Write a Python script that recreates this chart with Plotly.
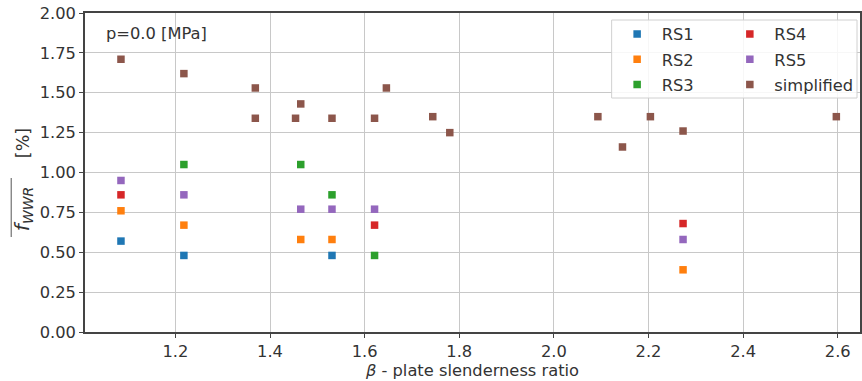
import plotly.graph_objects as go

rs1_x = [1.085, 1.218, 1.531]
rs1_y = [0.57, 0.48, 0.48]
rs2_x = [1.085, 1.218, 1.465, 1.531, 2.273]
rs2_y = [0.76, 0.67, 0.58, 0.58, 0.39]
rs3_x = [1.218, 1.465, 1.531, 1.621]
rs3_y = [1.05, 1.05, 0.86, 0.48]
rs4_x = [1.085, 1.621, 2.273]
rs4_y = [0.86, 0.67, 0.68]
rs5_x = [1.085, 1.218, 1.465, 1.531, 1.621, 2.273]
rs5_y = [0.95, 0.86, 0.77, 0.77, 0.77, 0.58]
simp_x = [1.085, 1.218, 1.369, 1.369, 1.454, 1.465, 1.531, 1.621, 1.646, 1.744,
          1.780, 2.093, 2.145, 2.204, 2.273, 2.597]
simp_y = [1.71, 1.62, 1.53, 1.34, 1.34, 1.43, 1.34, 1.34, 1.53, 1.35,
          1.25, 1.35, 1.16, 1.35, 1.26, 1.35]

x_ticks = [1.2, 1.4, 1.6, 1.8, 2.0, 2.2, 2.4, 2.6]
y_ticks = [0.0, 0.25, 0.5, 0.75, 1.0, 1.25, 1.5, 1.75, 2.0]

series = [
    ("RS1", rs1_x, rs1_y, "#1f77b4", "legend"),
    ("RS2", rs2_x, rs2_y, "#ff7f0e", "legend"),
    ("RS3", rs3_x, rs3_y, "#2ca02c", "legend"),
    ("RS4", rs4_x, rs4_y, "#d62728", "legend2"),
    ("RS5", rs5_x, rs5_y, "#9467bd", "legend2"),
    ("simplified", simp_x, simp_y, "#8c564b", "legend2"),
]

FONT = "DejaVu Sans"
FS = 16.3
TXT = "#333"
W, H = 862, 381
ML, MR, MT, MB = 85, 0, 13, 49
PW = W - ML - MR
PH = H - MT - MB


def px_x(p):
    return (p - ML) / PW


def px_y(p):
    return (H - MB - p) / PH


fig = go.Figure()
for name, xs, ys, col, lg in series:
    fig.add_trace(go.Scatter(
        x=xs, y=ys, mode="markers", name=name, legend=lg, legendgroup=name,
        marker=dict(symbol="square", size=7.5, color=col,
                    line=dict(width=0)),
    ))

axis_common = dict(
    showline=True, linecolor="#444", linewidth=1.5, mirror=True,
    ticks="outside", ticklen=4, tickcolor="#444", tickwidth=1,
    showgrid=True, gridcolor="#c8c8c8", gridwidth=1, zeroline=False,
    tickfont=dict(family=FONT, size=FS, color=TXT),
)

legend_common = dict(
    xanchor="left", yanchor="top", bgcolor="rgba(0,0,0,0)", borderwidth=0,
    font=dict(family=FONT, size=FS, color=TXT), itemwidth=39,
    tracegroupgap=1,
)

fig.update_layout(
    width=W, height=H,
    margin=dict(l=ML, r=MR, t=MT, b=MB),
    paper_bgcolor="white", plot_bgcolor="white",
    font=dict(family=FONT, size=FS, color=TXT),
    xaxis=dict(range=[1.009, 2.647], tickvals=x_ticks, tickformat=".1f",
               title=dict(text="<i>β</i> - plate slenderness ratio",
                          font=dict(family=FONT, size=FS, color=TXT),
                          standoff=3),
               **axis_common),
    yaxis=dict(range=[0, 2.0], tickvals=y_ticks, tickformat=".2f",
               **axis_common),
    legend=dict(x=px_x(614), y=px_y(17), **legend_common),
    legend2=dict(x=px_x(727), y=px_y(17), **legend_common),
    shapes=[
        dict(type="rect", xref="paper", yref="paper",
             x0=px_x(613), x1=px_x(859), y0=px_y(98), y1=px_y(20),
             fillcolor="rgba(255,255,255,0.85)",
             line=dict(color="#d0d0d0", width=1), layer="above"),
        dict(type="line", xref="paper", yref="paper",
             x0=px_x(11), x1=px_x(11), y0=px_y(237), y1=px_y(178),
             line=dict(color="#555", width=1)),
    ],
    annotations=[
        dict(text="p=0.0 [MPa]", xref="paper", yref="paper",
             x=px_x(104), y=px_y(33), xanchor="left", yanchor="middle",
             showarrow=False, font=dict(family=FONT, size=FS, color=TXT)),
        dict(text="<i>f</i><sub><i>WWR</i></sub>",
             xref="paper", yref="paper", x=px_x(23), y=px_y(209),
             xanchor="center", yanchor="middle", textangle=-90,
             showarrow=False, font=dict(family=FONT, size=20, color=TXT)),
        dict(text="[%]",
             xref="paper", yref="paper", x=px_x(23), y=px_y(143),
             xanchor="center", yanchor="middle", textangle=-90,
             showarrow=False, font=dict(family=FONT, size=17.5, color=TXT)),
    ],
)

fig.write_html("out.html")
